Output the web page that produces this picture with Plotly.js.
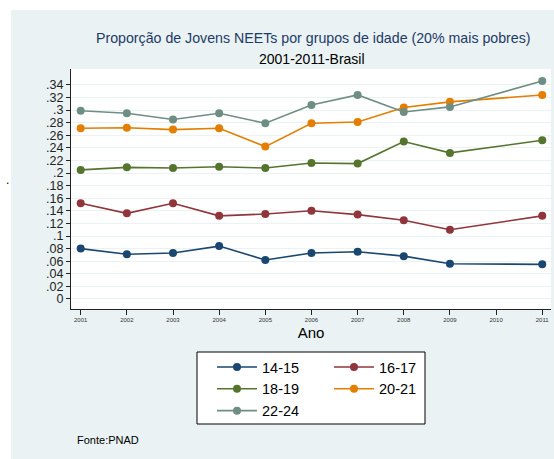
<!DOCTYPE html>
<html>
<head>
<meta charset="utf-8">
<script src="https://cdn.plot.ly/plotly-3.0.1.min.js"></script>
<style>html,body{margin:0;padding:0;background:#fff;}#chart{width:554px;height:459px;}</style>
</head>
<body>
<div id="chart"></div>
<script>
var years = [2001, 2002, 2003, 2004, 2005, 2006, 2007, 2008, 2009, 2011];
var g1415 = [0.080, 0.071, 0.073, 0.084, 0.062, 0.073, 0.075, 0.068, 0.056, 0.055];
var g1617 = [0.152, 0.136, 0.152, 0.132, 0.135, 0.140, 0.134, 0.125, 0.110, 0.132];
var g1819 = [0.205, 0.209, 0.208, 0.210, 0.208, 0.216, 0.215, 0.250, 0.232, 0.252];
var g2021 = [0.271, 0.272, 0.269, 0.271, 0.242, 0.279, 0.281, 0.304, 0.313, 0.324];
var g2224 = [0.299, 0.295, 0.285, 0.295, 0.279, 0.308, 0.324, 0.297, 0.305, 0.346];
var seriesNames = ['14-15', '16-17', '18-19', '20-21', '22-24'];
var xTicks = [2001, 2002, 2003, 2004, 2005, 2006, 2007, 2008, 2009, 2010, 2011];
var yTickVals = [0, 0.02, 0.04, 0.06, 0.08, 0.10, 0.12, 0.14, 0.16, 0.18, 0.20, 0.22, 0.24, 0.26, 0.28, 0.30, 0.32, 0.34];
var yTickText = ['0', '.02', '.04', '.06', '.08', '.1', '.12', '.14', '.16', '.18', '.2', '.22', '.24', '.26', '.28', '.3', '.32', '.34'];

var colors = ['#1a476f', '#90353b', '#55752f', '#e37e00', '#6e8e84'];
var legends = ['legend', 'legend2', 'legend', 'legend2', 'legend'];
var values = [g1415, g1617, g1819, g2021, g2224];

var traces = values.map(function (v, i) {
  return {
    x: years, y: v, name: seriesNames[i], type: 'scatter', mode: 'lines+markers',
    line: {color: colors[i], width: 1.6},
    marker: {color: colors[i], size: 8},
    legend: legends[i]
  };
});

var W = 480, H = 240, L = 71, T = 69;
function px(x) { return (x - L) / W; }
function py(y) { return 1 - (y - T) / H; }

var layout = {
  width: 554, height: 459,
  margin: {l: 71, r: 3, t: 69, b: 150, pad: 0},
  paper_bgcolor: '#eaf2f3',
  plot_bgcolor: '#ffffff',
  font: {family: 'Liberation Sans, Arial, sans-serif', color: '#000'},
  showlegend: true,
  xaxis: {
    range: [2000.79, 2011.19], tickvals: xTicks, ticktext: xTicks.map(String),
    showgrid: false, zeroline: false, showline: true, linecolor: '#222', linewidth: 1,
    ticks: 'outside', ticklen: 5, tickcolor: '#222', tickfont: {size: 6, color: '#333'},
    title: {text: 'Ano', font: {size: 15, color: '#000'}, standoff: 5}
  },
  yaxis: {
    range: [-0.0159, 0.3652], tickvals: yTickVals, ticktext: yTickText,
    showgrid: true, gridcolor: '#eaf2f3', gridwidth: 1, zeroline: false,
    showline: true, linecolor: '#222', linewidth: 1,
    ticks: 'outside', ticklen: 4, tickcolor: '#222', tickfont: {size: 12.5, color: '#222'}
  },
  legend: {
    x: px(212), y: py(351), xanchor: 'left', yanchor: 'top', bgcolor: 'rgba(0,0,0,0)',
    borderwidth: 0, font: {size: 14.5, color: '#000'}, itemwidth: 40, orientation: 'v'
  },
  legend2: {
    x: px(329), y: py(351), xanchor: 'left', yanchor: 'top', bgcolor: 'rgba(0,0,0,0)',
    borderwidth: 0, font: {size: 14.5, color: '#000'}, itemwidth: 40, orientation: 'v'
  },
  shapes: [
    {type: 'rect', xref: 'paper', yref: 'paper', x0: px(197), x1: px(425), y0: py(424), y1: py(352),
     line: {color: '#000', width: 1}, fillcolor: '#fff', layer: 'below'},
    {type: 'rect', xref: 'paper', yref: 'paper', x0: px(0), x1: px(11), y0: py(459), y1: py(0),
     line: {width: 0}, fillcolor: '#fff', layer: 'below'},
    {type: 'rect', xref: 'paper', yref: 'paper', x0: px(0), x1: px(554), y0: py(10), y1: py(0),
     line: {width: 0}, fillcolor: '#fff', layer: 'below'}
  ],
  annotations: [
    {text: 'Proporção de Jovens NEETs por grupos de idade (20% mais pobres)', xref: 'paper', yref: 'paper',
     x: px(313.5), y: py(38), xanchor: 'center', yanchor: 'middle', showarrow: false,
     font: {size: 14.2, color: '#1d3b66'}},
    {text: '2001-2011-Brasil', xref: 'paper', yref: 'paper',
     x: px(312), y: py(59), xanchor: 'center', yanchor: 'middle', showarrow: false,
     font: {size: 14, color: '#000'}},
    {text: '.', xref: 'paper', yref: 'paper', x: px(7), y: py(180), xanchor: 'center', yanchor: 'middle',
     showarrow: false, font: {size: 12, color: '#000'}},
    {text: 'Fonte:PNAD', xref: 'paper', yref: 'paper', x: px(75), y: py(440), xanchor: 'left', yanchor: 'middle',
     showarrow: false, font: {size: 11, color: '#000'}}
  ]
};

Plotly.newPlot('chart', traces, layout, {displayModeBar: false, staticPlot: true});
</script>
</body>
</html>
